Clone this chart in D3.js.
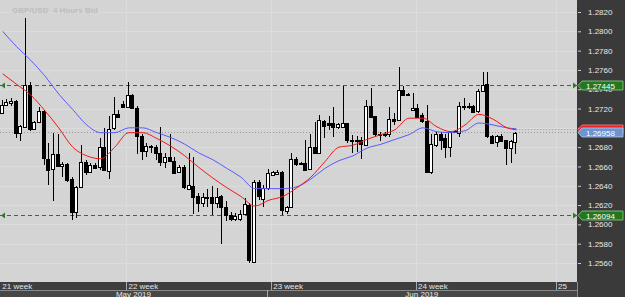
<!DOCTYPE html>
<html>
<head>
<meta charset="utf-8">
<script src="https://cdn.jsdelivr.net/npm/d3@7"></script>
<style>
  body { margin: 0; background: #3a3a3a; }
  svg { display: block; font-family: "Liberation Sans", Arial, sans-serif; }
</style>
</head>
<body>
<svg id="chart"></svg>
<script>
// GBP/USD 4H bars
const opens = [
  1.2716, 1.2724, 1.2726, 1.2728, 1.2695, 1.2701, 1.2744, 1.2699, 1.2706, 1.2717,
  1.2668, 1.2657, 1.2673, 1.2661, 1.2663, 1.2647, 1.2613, 1.2639, 1.2665, 1.2655,
  1.2662, 1.2659, 1.2680, 1.2656, 1.2699, 1.2714, 1.2725, 1.2722, 1.2734, 1.2721,
  1.2692, 1.2676, 1.2681, 1.2680, 1.2674, 1.2665, 1.2670, 1.2666, 1.2654, 1.2659,
  1.2637, 1.2640, 1.2629, 1.2622, 1.2627, 1.2628, 1.2622, 1.2629, 1.2618, 1.2610,
  1.2606, 1.2606, 1.2611, 1.2620, 1.2561, 1.2644, 1.2627, 1.2637, 1.2651, 1.2652,
  1.2654, 1.2614, 1.2618, 1.2668, 1.2664, 1.2664, 1.2657, 1.2680, 1.2674, 1.2707,
  1.2705, 1.2705, 1.2701, 1.2701, 1.2705, 1.2687, 1.2686, 1.2687, 1.2683, 1.2723,
  1.2712, 1.2693, 1.2694, 1.2693, 1.2709, 1.2708, 1.2739, 1.2734, 1.2719, 1.2721,
  1.2713, 1.2707, 1.2654, 1.2683, 1.2694, 1.2689, 1.2680, 1.2696, 1.2695, 1.2723,
  1.2722, 1.2723, 1.2717, 1.2738, 1.2745, 1.2692, 1.2686, 1.2692, 1.2687, 1.2679,
  1.2686
];
const highs = [
  1.2729, 1.2730, 1.2731, 1.2729, 1.2703, 1.2814, 1.2747, 1.2707, 1.2722, 1.2719,
  1.2684, 1.2695, 1.2694, 1.2665, 1.2664, 1.2649, 1.2640, 1.2682, 1.2667, 1.2664,
  1.2664, 1.2690, 1.2700, 1.2712, 1.2732, 1.2719, 1.2728, 1.2748, 1.2735, 1.2723,
  1.2694, 1.2684, 1.2682, 1.2682, 1.2701, 1.2674, 1.2694, 1.2670, 1.2661, 1.2661,
  1.2674, 1.2670, 1.2633, 1.2633, 1.2637, 1.2640, 1.2638, 1.2630, 1.2624, 1.2613,
  1.2612, 1.2615, 1.2627, 1.2622, 1.2646, 1.2646, 1.2641, 1.2657, 1.2655, 1.2656,
  1.2655, 1.2619, 1.2674, 1.2670, 1.2665, 1.2687, 1.2694, 1.2706, 1.2713, 1.2708,
  1.2712, 1.2722, 1.2705, 1.2743, 1.2705, 1.2693, 1.2692, 1.2691, 1.2729, 1.2741,
  1.2712, 1.2696, 1.2696, 1.2722, 1.2715, 1.2763, 1.2743, 1.2736, 1.2736, 1.2725,
  1.2715, 1.2724, 1.2694, 1.2696, 1.2696, 1.2694, 1.2697, 1.2698, 1.2727, 1.2731,
  1.2726, 1.2724, 1.2740, 1.2758, 1.2758, 1.2693, 1.2693, 1.2694, 1.2687, 1.2687,
  1.2696
];
const lows = [
  1.2715, 1.2723, 1.2723, 1.2690, 1.2686, 1.2700, 1.2697, 1.2698, 1.2706, 1.2662,
  1.2641, 1.2624, 1.2659, 1.2649, 1.2644, 1.2605, 1.2607, 1.2638, 1.2651, 1.2654,
  1.2657, 1.2656, 1.2655, 1.2647, 1.2698, 1.2710, 1.2721, 1.2721, 1.2720, 1.2673,
  1.2667, 1.2670, 1.2674, 1.2667, 1.2660, 1.2658, 1.2665, 1.2653, 1.2653, 1.2637,
  1.2636, 1.2611, 1.2613, 1.2618, 1.2618, 1.2610, 1.2617, 1.2580, 1.2604, 1.2604,
  1.2604, 1.2603, 1.2610, 1.2560, 1.2560, 1.2625, 1.2618, 1.2636, 1.2650, 1.2651,
  1.2610, 1.2611, 1.2617, 1.2660, 1.2661, 1.2656, 1.2656, 1.2673, 1.2673, 1.2689,
  1.2698, 1.2691, 1.2699, 1.2700, 1.2684, 1.2674, 1.2675, 1.2668, 1.2682, 1.2711,
  1.2691, 1.2686, 1.2691, 1.2691, 1.2703, 1.2707, 1.2733, 1.2733, 1.2718, 1.2711,
  1.2705, 1.2653, 1.2652, 1.2680, 1.2677, 1.2669, 1.2670, 1.2695, 1.2691, 1.2718,
  1.2720, 1.2716, 1.2715, 1.2737, 1.2690, 1.2684, 1.2680, 1.2685, 1.2662, 1.2664,
  1.2673
];
const closes = [
  1.2724, 1.2727, 1.2728, 1.2695, 1.2702, 1.2744, 1.2698, 1.2706, 1.2717, 1.2668,
  1.2657, 1.2673, 1.2661, 1.2663, 1.2646, 1.2613, 1.2639, 1.2665, 1.2655, 1.2662,
  1.2659, 1.2680, 1.2656, 1.2699, 1.2714, 1.2711, 1.2722, 1.2734, 1.2721, 1.2692,
  1.2676, 1.2681, 1.2680, 1.2674, 1.2665, 1.2670, 1.2666, 1.2654, 1.2659, 1.2638,
  1.2641, 1.2629, 1.2622, 1.2628, 1.2628, 1.2622, 1.2628, 1.2618, 1.2610, 1.2606,
  1.2609, 1.2611, 1.2621, 1.2563, 1.2644, 1.2629, 1.2638, 1.2653, 1.2654, 1.2654,
  1.2615, 1.2618, 1.2668, 1.2663, 1.2663, 1.2657, 1.2680, 1.2674, 1.2708, 1.2702,
  1.2703, 1.2701, 1.2704, 1.2705, 1.2687, 1.2686, 1.2687, 1.2683, 1.2723, 1.2712,
  1.2693, 1.2694, 1.2693, 1.2709, 1.2707, 1.2739, 1.2734, 1.2735, 1.2721, 1.2712,
  1.2707, 1.2654, 1.2683, 1.2694, 1.2688, 1.2680, 1.2696, 1.2697, 1.2723, 1.2722,
  1.2723, 1.2717, 1.2738, 1.2744, 1.2691, 1.2685, 1.2692, 1.2687, 1.2679, 1.2686,
  1.2695
];

// moving averages, sampled every third bar
const maIndex = [0, 3, 6, 9, 12, 15, 18, 21, 24, 27, 30, 33, 36, 39, 42, 45, 48, 51, 54,
  57, 60, 63, 66, 69, 72, 75, 78, 81, 84, 87, 90, 93, 96, 99, 102, 105, 108, 110];
const maFast = [1.2756, 1.2745, 1.2734, 1.2718, 1.2700, 1.2680, 1.2671, 1.2668, 1.2680, 1.2695,
  1.2695, 1.2689, 1.2681, 1.2671, 1.2659, 1.2648, 1.2638, 1.2629, 1.2619, 1.2625,
  1.2629, 1.2638, 1.2649, 1.2665, 1.2680, 1.2682, 1.2688, 1.2693, 1.2698, 1.2710,
  1.2710, 1.2701, 1.2696, 1.2703, 1.2714, 1.2709, 1.2700, 1.2698];
const maSlow = [1.2800, 1.2784, 1.2770, 1.2754, 1.2735, 1.2719, 1.2703, 1.2695, 1.2695, 1.2700,
  1.2700, 1.2695, 1.2690, 1.2683, 1.2674, 1.2667, 1.2658, 1.2649, 1.2637, 1.2637,
  1.2637, 1.2639, 1.2647, 1.2658, 1.2666, 1.2671, 1.2679, 1.2683, 1.2688, 1.2693,
  1.2700, 1.2696, 1.2695, 1.2697, 1.2705, 1.2703, 1.2700, 1.2699];

const priceTicks = [1.2560, 1.2580, 1.2600, 1.2620, 1.2640, 1.2660, 1.2680, 1.2700,
  1.2720, 1.2740, 1.2760, 1.2780, 1.2800, 1.2820];
// tick labels that sit fully behind the price tags in the reference
const hiddenTicks = [1.2700];
const levelPrices = [1.27445, 1.26094];
const levelLabels = ['1.27445', '1.26094'];
const askPrice = 1.26983;
const bidPrice = 1.26952;
const bidLabel = '1.26958';

const weekLabels = ['21 week', '22 week', '23 week', '24 week', '25'];
const weekStarts = [-0.5, 26.5, 57.5, 88.5, 118.5];
const monthLabels = ['May 2019', 'Jun 2019'];
const monthStarts = [-0.5, 56.5];

class CandleChart {

  constructor(_config) {
    this.config = {
      parentElement: _config.parentElement,
      containerWidth: _config.containerWidth || 625,
      containerHeight: _config.containerHeight || 297,
      plotRight: 577,
      plotBottom: 282
    };
    this.initVis();
  }

  initVis() {
    let vis = this;
    const cfg = vis.config;

    vis.xScale = d3.scaleLinear()
      .domain([0, opens.length - 1])
      .range([2.7, 516.4]);

    vis.yScale = d3.scaleLinear()
      .domain([1.2560, 1.2820])
      .range([263, 12]);

    vis.svg = d3.select(cfg.parentElement)
      .attr('width', cfg.containerWidth)
      .attr('height', cfg.containerHeight);

    // panels
    vis.svg.append('rect')
      .attr('width', cfg.containerWidth).attr('height', cfg.containerHeight)
      .attr('fill', '#3a3a3a');
    vis.svg.append('rect')
      .attr('width', cfg.plotRight).attr('height', cfg.plotBottom)
      .attr('fill', '#d4d4d4');

    vis.svg.append('clipPath').attr('id', 'plot-clip')
      .append('rect').attr('width', cfg.plotRight).attr('height', cfg.plotBottom);

    vis.plot = vis.svg.append('g').attr('clip-path', 'url(#plot-clip)');

    vis.updateVis();
  }

  updateVis() {
    let vis = this;
    vis.bars = opens.map((o, i) => ({ i, o, h: highs[i], l: lows[i], c: closes[i] }));
    vis.fastLine = maIndex.map((i, k) => ({ i, v: maFast[k] }));
    vis.slowLine = maIndex.map((i, k) => ({ i, v: maSlow[k] }));
    vis.renderVis();
  }

  renderVis() {
    let vis = this;
    const cfg = vis.config;
    const x = vis.xScale, y = vis.yScale;
    const snap = v => Math.round(v) + 0.5;

    // grid
    vis.plot.selectAll('.hgrid')
      .data(priceTicks)
      .join('line')
      .attr('class', 'hgrid')
      .attr('x1', 0).attr('x2', cfg.plotRight)
      .attr('y1', d => snap(y(d))).attr('y2', d => snap(y(d)))
      .attr('stroke', '#dcdcdc');

    vis.plot.selectAll('.vgrid')
      .data(weekStarts.slice(1))
      .join('line')
      .attr('class', 'vgrid')
      .attr('x1', d => snap(x(d))).attr('x2', d => snap(x(d)))
      .attr('y1', 0).attr('y2', cfg.plotBottom)
      .attr('stroke', '#dcdcdc');

    vis.plot.append('text')
      .attr('x', 12).attr('y', 12.5)
      .attr('font-size', 8).attr('font-weight', 'bold')
      .attr('fill', '#bdbdbd')
      .attr('xml:space', 'preserve')
      .text('GBP/USD  4 Hours Bid');

    // support / resistance levels
    vis.plot.selectAll('.level')
      .data(levelPrices)
      .join('line')
      .attr('class', 'level')
      .attr('x1', 0).attr('x2', cfg.plotRight)
      .attr('y1', d => snap(y(d))).attr('y2', d => snap(y(d)))
      .attr('stroke', '#3d6b35')
      .attr('stroke-dasharray', '4,3');

    vis.plot.selectAll('.level-arrow-l')
      .data(levelPrices)
      .join('path')
      .attr('class', 'level-arrow-l')
      .attr('d', d => `M1,${snap(y(d))}L5,${snap(y(d)) - 3}L5,${snap(y(d)) + 3}Z`)
      .attr('fill', '#2f7a2a');

    vis.plot.selectAll('.level-arrow-r')
      .data(levelPrices)
      .join('path')
      .attr('class', 'level-arrow-r')
      .attr('d', d => `M577,${snap(y(d))}L573,${snap(y(d)) - 3}L573,${snap(y(d)) + 3}Z`)
      .attr('fill', '#2f7a2a');

    // bid / ask lines
    vis.plot.append('line')
      .attr('x1', 0).attr('x2', cfg.plotRight)
      .attr('y1', snap(y(bidPrice))).attr('y2', snap(y(bidPrice)))
      .attr('stroke', '#9a9a9a').attr('stroke-dasharray', '1,2');
    vis.plot.append('line')
      .attr('x1', x(opens.length - 1)).attr('x2', cfg.plotRight)
      .attr('y1', snap(y(askPrice))).attr('y2', snap(y(askPrice)))
      .attr('stroke', '#9a9a9a').attr('stroke-dasharray', '1,2');

    // candles
    const candles = vis.plot.selectAll('.candle')
      .data(vis.bars)
      .join('g')
      .attr('class', 'candle')
      .attr('shape-rendering', 'crispEdges');

    candles.append('line')
      .attr('x1', d => snap(x(d.i)) - 1).attr('x2', d => snap(x(d.i)) - 1)
      .attr('y1', d => y(d.h)).attr('y2', d => y(d.l))
      .attr('stroke', '#000');

    candles.append('rect')
      .attr('x', d => Math.round(x(d.i)) - 2.5)
      .attr('width', 3)
      .attr('y', d => Math.round(y(Math.max(d.o, d.c))) + 0.5)
      .attr('height', d => Math.max(1, Math.round(Math.abs(y(d.o) - y(d.c)))))
      .attr('fill', d => d.c >= d.o ? '#fff' : '#000')
      .attr('stroke', '#000');

    // moving averages
    const line = d3.line().x(d => x(d.i)).y(d => y(d.v)).curve(d3.curveMonotoneX);
    vis.plot.append('path')
      .datum(vis.slowLine)
      .attr('d', line)
      .attr('fill', 'none').attr('stroke', '#5a5aff').attr('stroke-width', 1);
    vis.plot.append('path')
      .datum(vis.fastLine)
      .attr('d', line)
      .attr('fill', 'none').attr('stroke', '#f01818').attr('stroke-width', 1);

    // right price axis
    const fmt = d3.format('.4f');
    const yAxis = d3.axisRight(y)
      .tickValues(priceTicks)
      .tickFormat(d => hiddenTicks.includes(d) ? '' : fmt(d))
      .tickSize(3)
      .tickPadding(7);
    const yAxisG = vis.svg.append('g')
      .attr('transform', `translate(${cfg.plotRight + 1},0)`)
      .call(yAxis);
    yAxisG.select('.domain').remove();
    yAxisG.selectAll('line').attr('stroke', '#d0d0d0');
    yAxisG.selectAll('text')
      .attr('fill', '#e8e8e8')
      .attr('font-size', 8)
      .attr('font-family', '"Liberation Sans", Arial, sans-serif');

    // price tags
    const tag = (p, fill, stroke, label) => {
      const cy = snap(y(p));
      vis.svg.append('path')
        .attr('d', `M578,${cy}L582,${cy - 4.5}L623,${cy - 4.5}L623,${cy + 4.5}L582,${cy + 4.5}Z`)
        .attr('fill', fill).attr('stroke', stroke).attr('stroke-width', 0.8);
      if (label) {
        vis.svg.append('text')
          .attr('x', 586).attr('y', cy + 3)
          .attr('font-size', 8).attr('fill', '#ffffff')
          .text(label);
      }
    };
    levelPrices.forEach((p, k) => tag(p, '#23781d', '#8fd08a', levelLabels[k]));
    tag(askPrice, '#f02020', '#ff8080', null);
    tag(bidPrice, '#6f93cf', '#b4c8ea', bidLabel);

    // time axis
    vis.svg.append('rect')
      .attr('y', cfg.plotBottom).attr('width', cfg.plotRight).attr('height', 8)
      .attr('fill', '#3e3e3e');
    vis.svg.append('rect')
      .attr('y', 290).attr('width', cfg.plotRight).attr('height', 7)
      .attr('fill', '#474747');
    vis.svg.append('line')
      .attr('x1', 0).attr('x2', cfg.plotRight).attr('y1', 290.5).attr('y2', 290.5)
      .attr('stroke', '#8a8a8a');
    vis.svg.append('line')
      .attr('x1', cfg.plotRight + 0.5).attr('x2', cfg.plotRight + 0.5)
      .attr('y1', cfg.plotBottom).attr('y2', cfg.containerHeight)
      .attr('stroke', '#8a8a8a');

    vis.svg.selectAll('.week-sep')
      .data(weekStarts.slice(1))
      .join('line')
      .attr('class', 'week-sep')
      .attr('x1', d => snap(x(d))).attr('x2', d => snap(x(d)))
      .attr('y1', cfg.plotBottom).attr('y2', 290)
      .attr('stroke', '#a8a8a8');

    vis.svg.selectAll('.week-label')
      .data(weekLabels)
      .join('text')
      .attr('class', 'week-label')
      .attr('x', (d, k) => Math.max(2, x(weekStarts[k]) + 2))
      .attr('y', 288.5)
      .attr('font-size', 8).attr('fill', '#e6e6e6')
      .text(d => d);

    vis.svg.selectAll('.month-sep')
      .data(monthStarts.slice(1))
      .join('line')
      .attr('class', 'month-sep')
      .attr('x1', d => snap(x(d))).attr('x2', d => snap(x(d)))
      .attr('y1', 290).attr('y2', cfg.containerHeight)
      .attr('stroke', '#a8a8a8');

    vis.svg.selectAll('.month-label')
      .data(monthLabels)
      .join('text')
      .attr('class', 'month-label')
      .attr('x', (d, k) => {
        const a = Math.max(0, x(monthStarts[k]));
        const b = k + 1 < monthStarts.length ? x(monthStarts[k + 1]) : cfg.plotRight;
        return (a + b) / 2;
      })
      .attr('y', 296.5)
      .attr('text-anchor', 'middle')
      .attr('font-size', 8).attr('fill', '#e6e6e6')
      .text(d => d);
  }
}

const chart = new CandleChart({ parentElement: '#chart' });
</script>
</body>
</html>
